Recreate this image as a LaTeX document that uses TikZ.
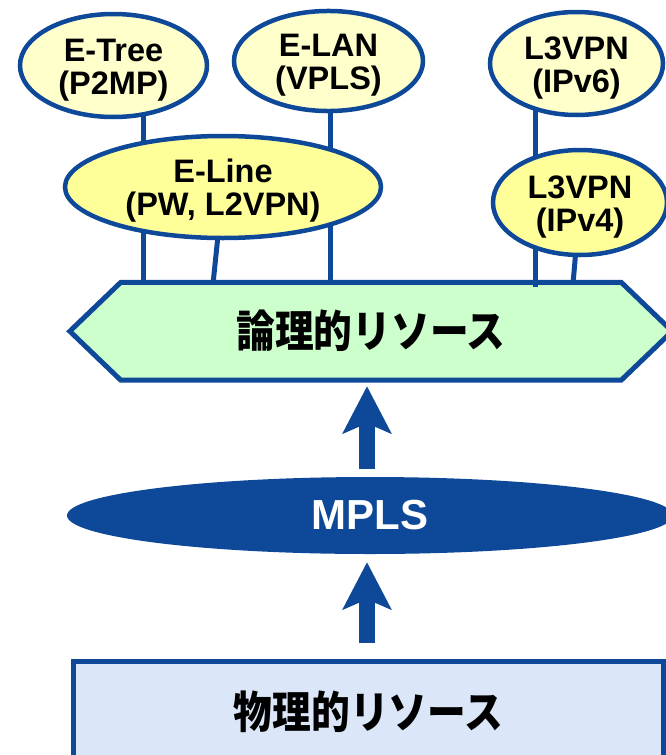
\documentclass[tikz,border=0pt]{standalone}
\usepackage{fontspec}
\setmainfont{Liberation Sans}
\newfontfamily\cjk{Noto Sans CJK JP}[FakeStretch=0.88]
\usetikzlibrary{shapes.geometric,arrows.meta,backgrounds}
\definecolor{navy}{HTML}{0E4898}
\definecolor{paleY}{HTML}{FFFFCC}
\definecolor{strongY}{HTML}{FFFF99}
\definecolor{hexfill}{HTML}{CCFFCC}
\definecolor{physfill}{HTML}{DBE7F9}
\newcommand{\upstrut}{\rule{0pt}{31pt}}
\begin{document}
\begin{tikzpicture}[x=1pt,y=-1pt,
  ell/.style={ellipse, draw=navy, line width=4.5pt, inner sep=0pt, align=center,
    font=\fontsize{32.5}{33}\selectfont\bfseries},
  pale/.style={fill=paleY},
  strong/.style={fill=strongY},
  conn/.style={draw=navy, line width=5pt},
  jtext/.style={font=\cjk\bfseries\fontsize{44}{46}\selectfont},
  bigarrow/.style={draw=navy, line width=16pt,
    -{Stealth[length=47pt,width=48pt,inset=10pt]}},
]
\useasboundingbox (0,0) rectangle (666,755);
\clip (0,0) rectangle (666,755);

% logical resources (hexagon)
\node[jtext, minimum width=602pt, minimum height=97.5pt, inner sep=0pt]
  (logic) at (371,331.25) {論理的リソース};

% service ellipses
\node[ell, pale, minimum width=187pt, minimum height=103pt] (etree) at (113.5,65.5) {\upstrut E-Tree\\(P2MP)};
\node[ell, pale, minimum width=189pt, minimum height=94pt] (elan) at (328.5,61) {\upstrut E-LAN\\(VPLS)};
\node[ell, pale, minimum width=173pt, minimum height=103pt] (ipv6) at (576.5,63.5) {\upstrut L3VPN\\(IPv6)};
\node[ell, strong, minimum width=316pt, minimum height=102pt] (eline) at (223,187) {\upstrut E-Line\\(PW, L2VPN)};
\node[ell, strong, minimum width=174pt, minimum height=105pt] (ipv4) at (580,202.5) {\upstrut L3VPN\\(IPv4)};

% connector end points on the hexagon top
\coordinate (t1) at (143,284);
\coordinate (t2) at (213,284);
\coordinate (t3) at (330,284);
\coordinate (t4) at (535,287);
\coordinate (t5) at (573,284);

\begin{scope}[on background layer]
  \draw[navy, line width=5pt, fill=hexfill, line join=miter]
    (logic.west) -- ([xshift=51pt]logic.north west) -- ([xshift=-51pt]logic.north east)
    -- (logic.east) -- ([xshift=-51pt]logic.south east) -- ([xshift=51pt]logic.south west) -- cycle;
  \draw[conn] (etree.center -| t1) -- (t1);
  \draw[conn] (eline.center) -- (t2);
  \draw[conn] (elan.center -| t3) -- (t3);
  \draw[conn] (ipv6.center -| t4) -- (t4);
  \draw[conn] (ipv4.center) -- (t5);
\end{scope}

% MPLS
\node[ellipse, fill=navy, minimum width=606pt, minimum height=77pt, inner sep=0pt,
  text=white, font=\fontsize{42}{44}\selectfont\bfseries] (mpls) at (370,515.5) {MPLS};

% physical resources
\node[rectangle, draw=navy, line width=5pt, fill=physfill, minimum width=590pt,
  minimum height=102pt, inner sep=0pt, jtext] (phys) at (368.5,712) {物理的リソース};

\coordinate (ax) at (367,0);
\draw[bigarrow, shorten <=8pt, shorten >=6pt] (mpls.north -| ax) -- (logic.south -| ax);
\draw[bigarrow, shorten <=16pt, shorten >=8pt] (phys.north -| ax) -- (mpls.south -| ax);
\end{tikzpicture}
\end{document}
